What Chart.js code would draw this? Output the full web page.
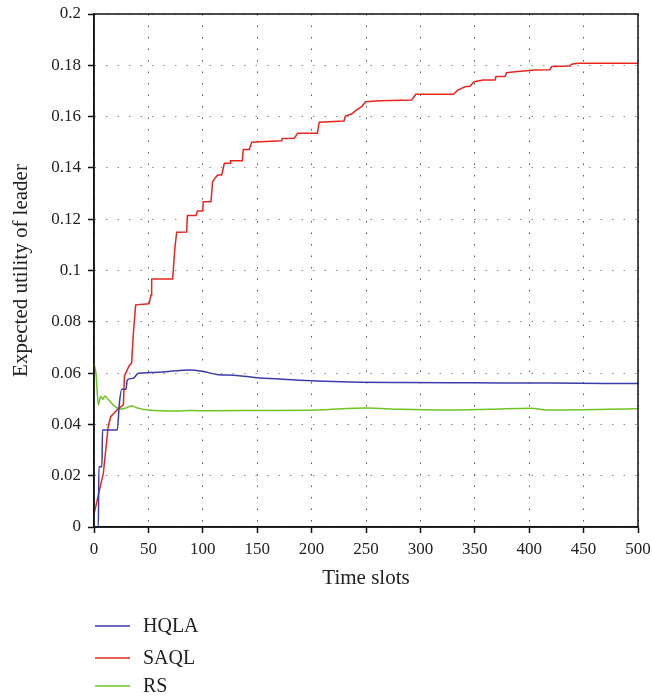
<!DOCTYPE html>
<html>
<head>
<meta charset="utf-8">
<script src="https://cdn.jsdelivr.net/npm/chart.js@4/dist/chart.umd.min.js"></script>
<style>
html,body{margin:0;padding:0;background:#fff;}
#wrap{width:652px;height:699px;position:relative;}
</style>
</head>
<body>
<div id="wrap"><canvas id="c" width="652" height="699"></canvas></div>
<script>
const seriesNames = ["HQLA", "SAQL", "RS"];
const seriesColors = ["#3c3cae", "#e6261f", "#6fc521"];

const hqlaX = [0, 4, 4.5, 7.3, 7.8, 21.4, 23.3, 25.5, 29.4, 30.6, 36.1, 40.7, 51.5, 79, 88.2, 100.5, 112.8, 131.2, 149.5, 174, 204.7, 235.3, 281.3, 350, 420, 500];
const hqlaY = [0, 0, 0.0235, 0.0235, 0.0378, 0.0378, 0.0482, 0.0537, 0.0537, 0.0573, 0.058, 0.0599, 0.0602, 0.061, 0.0612, 0.0606, 0.0595, 0.0591, 0.0582, 0.0576, 0.0569, 0.0565, 0.0563, 0.0562, 0.0561, 0.0559];

const saqlX = [0, 8.6, 13, 15.3, 22, 27, 28, 32.5, 34.6, 36.2, 38.3, 50.6, 52.4, 53, 72.3, 74.4, 76, 85.2, 85.8, 93.8, 95, 99.9, 100.4, 107.5, 109, 111.2, 113.7, 117.4, 119.8, 125, 125.6, 136.3, 137.2, 142.7, 145, 153.5, 172.5, 173, 184.1, 187.2, 205.3, 207, 229.8, 231, 236.8, 241.4, 246, 249.7, 262.9, 292, 295.7, 330.2, 334.8, 341, 345.6, 349.3, 357.8, 368.6, 369.5, 377.8, 379.3, 387, 405.3, 419, 420.7, 437.5, 439, 445, 500];
const saqlY = [0.005, 0.021, 0.039, 0.043, 0.046, 0.0476, 0.059, 0.063, 0.064, 0.0755, 0.0866, 0.087, 0.0904, 0.0967, 0.0967, 0.109, 0.1149, 0.115, 0.1214, 0.1214, 0.1232, 0.1232, 0.1268, 0.1268, 0.1346, 0.136, 0.1372, 0.1372, 0.1418, 0.1418, 0.1428, 0.1428, 0.1472, 0.1472, 0.150, 0.1502, 0.1506, 0.1515, 0.1516, 0.1535, 0.1535, 0.1578, 0.1583, 0.1602, 0.161, 0.1626, 0.1639, 0.1658, 0.1662, 0.1665, 0.1687, 0.1687, 0.1704, 0.1716, 0.1718, 0.1736, 0.1743, 0.1743, 0.1756, 0.1756, 0.1771, 0.1775, 0.1782, 0.1783, 0.1795, 0.1797, 0.1804, 0.1808, 0.1808];

const rsX = [0, 1.8, 4, 6.1, 8, 10.1, 12.2, 16.3, 20.9, 25.5, 30, 34.6, 39.2, 50, 76, 88.2, 106.6, 149.5, 204.7, 250.6, 281.3, 321, 364, 400.7, 419, 500];
const rsY = [0.0635, 0.060, 0.0476, 0.051, 0.0498, 0.0511, 0.0502, 0.0482, 0.0465, 0.046, 0.0465, 0.0472, 0.0465, 0.0456, 0.0452, 0.0454, 0.0453, 0.0454, 0.0456, 0.0464, 0.0459, 0.0456, 0.0459, 0.0463, 0.0456, 0.0461];

const xTicks = [0, 50, 100, 150, 200, 250, 300, 350, 400, 450, 500];
const yTicks = [0, 0.02, 0.04, 0.06, 0.08, 0.1, 0.12, 0.14, 0.16, 0.18, 0.2];

function pts(xs, ys){ return xs.map((x,i)=>({x:x, y:ys[i]})); }

const FONT = "'Liberation Serif', 'Times New Roman', serif";

const framePlugin = {
  id: 'frame',
  afterDraw(chart){
    const {ctx, chartArea:a} = chart;
    ctx.save();
    ctx.setLineDash([]);
    ctx.strokeStyle = '#111';
    ctx.lineWidth = 1.5;
    ctx.strokeRect(a.left, a.top, a.right - a.left, a.bottom - a.top);
    ctx.restore();
    // legend (vertical list below the chart)
    ctx.save();
    ctx.setLineDash([]);
    ctx.font = "20px " + FONT;
    ctx.textBaseline = 'middle';
    const ys = [626, 658, 686];
    chart.data.datasets.forEach((ds, i) => {
      const y = ys[i];
      ctx.strokeStyle = ds.borderColor;
      ctx.lineWidth = 1.5;
      ctx.beginPath();
      ctx.moveTo(95, y);
      ctx.lineTo(130, y);
      ctx.stroke();
      ctx.fillStyle = '#222';
      ctx.fillText(ds.label, 143, y + 1);
    });
    ctx.restore();
  }
};

new Chart(document.getElementById('c'), {
  type: 'line',
  data: {
    datasets: [
      {label: seriesNames[0], data: pts(hqlaX, hqlaY), borderColor: seriesColors[0], borderWidth: 1.5, pointRadius: 0, cubicInterpolationMode: 'monotone', fill: false},
      {label: seriesNames[1], data: pts(saqlX, saqlY), borderColor: seriesColors[1], borderWidth: 1.5, pointRadius: 0, tension: 0, fill: false},
      {label: seriesNames[2], data: pts(rsX, rsY), borderColor: seriesColors[2], borderWidth: 1.5, pointRadius: 0, cubicInterpolationMode: 'monotone', fill: false}
    ]
  },
  options: {
    responsive: false,
    animation: false,
    clip: false,
    layout: {padding: {left: 0, right: 14, top: 14, bottom: 102}},
    plugins: {legend: {display: false}, tooltip: {enabled: false}},
    scales: {
      x: {
        type: 'linear',
        min: 0, max: 500,
        afterBuildTicks(s){ s.ticks = xTicks.map(v => ({value: v})); },
        afterFit(s){ s.height = 70; s.paddingLeft = 0; s.paddingRight = 0; },
        grid: {color: '#555', lineWidth: 1, drawTicks: true, tickLength: 6, tickColor: '#111', tickBorderDash: [], tickWidth: 1.5},
        border: {display: true, color: '#111', width: 1.5, dash: [1.5, 10]},
        ticks: {font: {family: FONT, size: 17}, color: '#222', padding: 6, maxRotation: 0, callback: v => String(v)},
        title: {display: true, text: 'Time slots', font: {family: FONT, size: 21}, color: '#222', padding: {top: 0, bottom: 6}}
      },
      y: {
        type: 'linear',
        min: 0, max: 0.2,
        afterBuildTicks(s){ s.ticks = yTicks.map(v => ({value: v})); },
        afterFit(s){ s.width = 94; s.paddingTop = 0; s.paddingBottom = 0; },
        grid: {color: '#888', lineWidth: 1, drawTicks: true, tickLength: 6, tickColor: '#111', tickBorderDash: [], tickWidth: 1.5},
        border: {display: true, color: '#111', width: 1.5, dash: [1.5, 10]},
        ticks: {font: {family: FONT, size: 17}, color: '#222', padding: 7, callback: v => String(Number(v.toFixed(2)))},
        title: {display: true, text: 'Expected utility of leader', font: {family: FONT, size: 21}, color: '#222', padding: {top: 9, bottom: 0}}
      }
    }
  },
  plugins: [framePlugin]
});
</script>
</body>
</html>
